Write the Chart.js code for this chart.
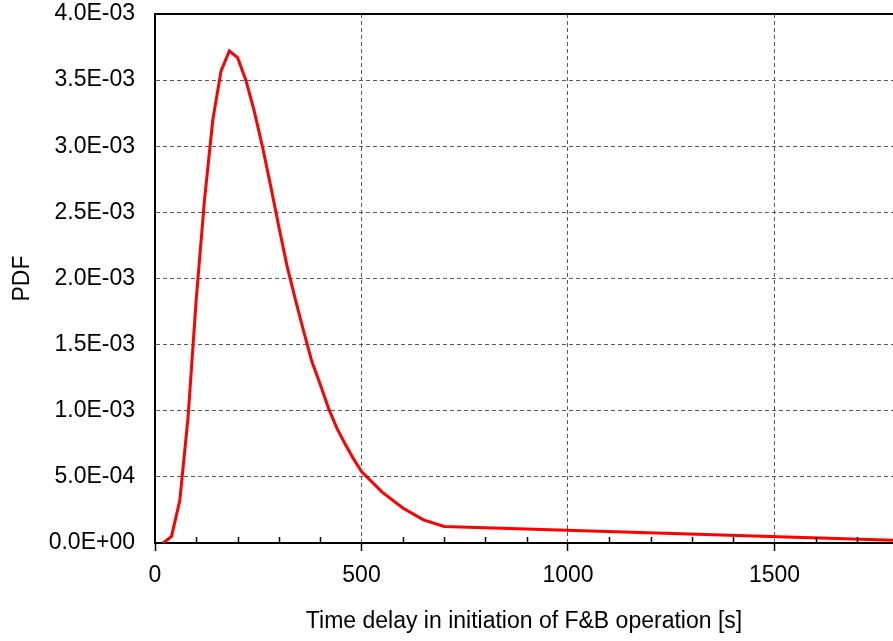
<!DOCTYPE html>
<html>
<head>
<meta charset="utf-8">
<script src="https://cdn.jsdelivr.net/npm/chart.js@4"></script>
<style>
  html, body { margin: 0; padding: 0; background: #fff; }
  #wrap { width: 893px; height: 641px; }
</style>
</head>
<body>
<div id="wrap"><canvas id="pdfChart"></canvas></div>
<script>
// time delay [s] and PDF values
const delay = [20, 40, 60, 80, 100, 120, 140, 160, 180, 200, 220, 240, 260, 280, 300,
               320, 340, 360, 380, 400, 420, 440, 460, 480, 500, 550, 600, 650, 700, 1800];
const pdf = [0.0, 0.05e-3, 0.32e-3, 0.95e-3, 1.85e-3, 2.6e-3, 3.2e-3, 3.57e-3, 3.72e-3, 3.67e-3,
             3.5e-3, 3.27e-3, 3.0e-3, 2.7e-3, 2.39e-3, 2.09e-3, 1.84e-3, 1.6e-3, 1.37e-3, 1.2e-3,
             1.02e-3, 0.87e-3, 0.75e-3, 0.64e-3, 0.54e-3, 0.385e-3, 0.265e-3, 0.175e-3, 0.125e-3, 0.02e-3];

const xMajorTicks = [0, 500, 1000, 1500];
const xMinorTicks = [100, 200, 300, 400, 600, 700, 800, 900, 1100, 1200, 1300, 1400, 1600, 1700];
const xTitle = 'Time delay in initiation of F&B operation [s]';
const yTitle = 'PDF';

const font = { family: '"Liberation Sans", Arial, sans-serif', size: 23 };
const gridColor = '#5a5a5a';

function sci(v) {
    if (Math.abs(v) < 1e-12) return '0.0E+00';
    let e = Math.floor(Math.log10(Math.abs(v)) + 1e-9);
    let m = v / Math.pow(10, e);
    if (Math.round(m * 10) / 10 >= 10) { m /= 10; e += 1; }
    return m.toFixed(1) + 'E' + (e < 0 ? '-' : '+') + String(Math.abs(e)).padStart(2, '0');
}

// top frame line + small inward minor ticks on the x axis
const framePlugin = {
    id: 'frame',
    afterDraw(chart) {
        const { ctx, chartArea, scales } = chart;
        ctx.save();
        ctx.strokeStyle = '#000';
        ctx.lineWidth = 2;
        ctx.beginPath();
        ctx.moveTo(chartArea.left, chartArea.top);
        ctx.lineTo(chartArea.right, chartArea.top);
        ctx.stroke();
        ctx.lineWidth = 1.5;
        ctx.beginPath();
        xMinorTicks.forEach(v => {
            const x = Math.round(scales.x.getPixelForValue(v)) + 0.5;
            ctx.moveTo(x, chartArea.bottom);
            ctx.lineTo(x, chartArea.bottom - 6);
        });
        ctx.stroke();
        ctx.restore();
    }
};

new Chart(document.getElementById('pdfChart').getContext('2d'), {
    type: 'scatter',
    data: {
        datasets: [{
            data: delay.map((d, i) => ({ x: d, y: pdf[i] })),
            showLine: true,
            borderColor: '#ff0000',
            backgroundColor: '#ff0000',
            borderWidth: 3,
            pointRadius: 0,
            tension: 0
        }]
    },
    options: {
        responsive: true,
        maintainAspectRatio: false,
        animation: false,
        layout: {
            padding: { left: 0, right: 0, top: 14, bottom: 0 }
        },
        plugins: {
            legend: { display: false },
            tooltip: { enabled: false }
        },
        scales: {
            x: {
                type: 'linear',
                min: 0,
                max: 1787,
                afterBuildTicks: scale => {
                    scale.ticks = xMajorTicks.map(v => ({ value: v }));
                },
                afterFit: scale => {
                    scale.height = 98;
                    scale.paddingLeft = 0;
                    scale.paddingRight = 0;
                },
                ticks: {
                    stepSize: 500,
                    color: '#000',
                    font: font,
                    padding: 11,
                    maxRotation: 0,
                    callback: v => String(v)
                },
                grid: {
                    color: gridColor,
                    lineWidth: 1,
                    drawTicks: true,
                    tickLength: 8,
                    tickColor: '#000',
                    tickWidth: 1.5
                },
                border: { display: true, color: '#000', width: 2, dash: [4, 3] },
                title: {
                    display: true,
                    text: xTitle,
                    color: '#000',
                    font: font,
                    padding: { top: 0, bottom: 6 }
                }
            },
            y: {
                min: 0,
                max: 0.004,
                afterFit: scale => {
                    scale.width = 155;
                    scale.paddingTop = 0;
                    scale.paddingBottom = 0;
                },
                ticks: {
                    stepSize: 0.0005,
                    color: '#000',
                    font: font,
                    padding: 20,
                    callback: v => sci(v)
                },
                grid: {
                    color: gridColor,
                    lineWidth: 1,
                    drawTicks: false
                },
                border: { display: true, color: '#000', width: 2, dash: [4, 3] },
                title: {
                    display: true,
                    text: yTitle,
                    color: '#000',
                    font: font,
                    padding: { top: 9, bottom: 0 }
                }
            }
        }
    },
    plugins: [framePlugin]
});
</script>
</body>
</html>
